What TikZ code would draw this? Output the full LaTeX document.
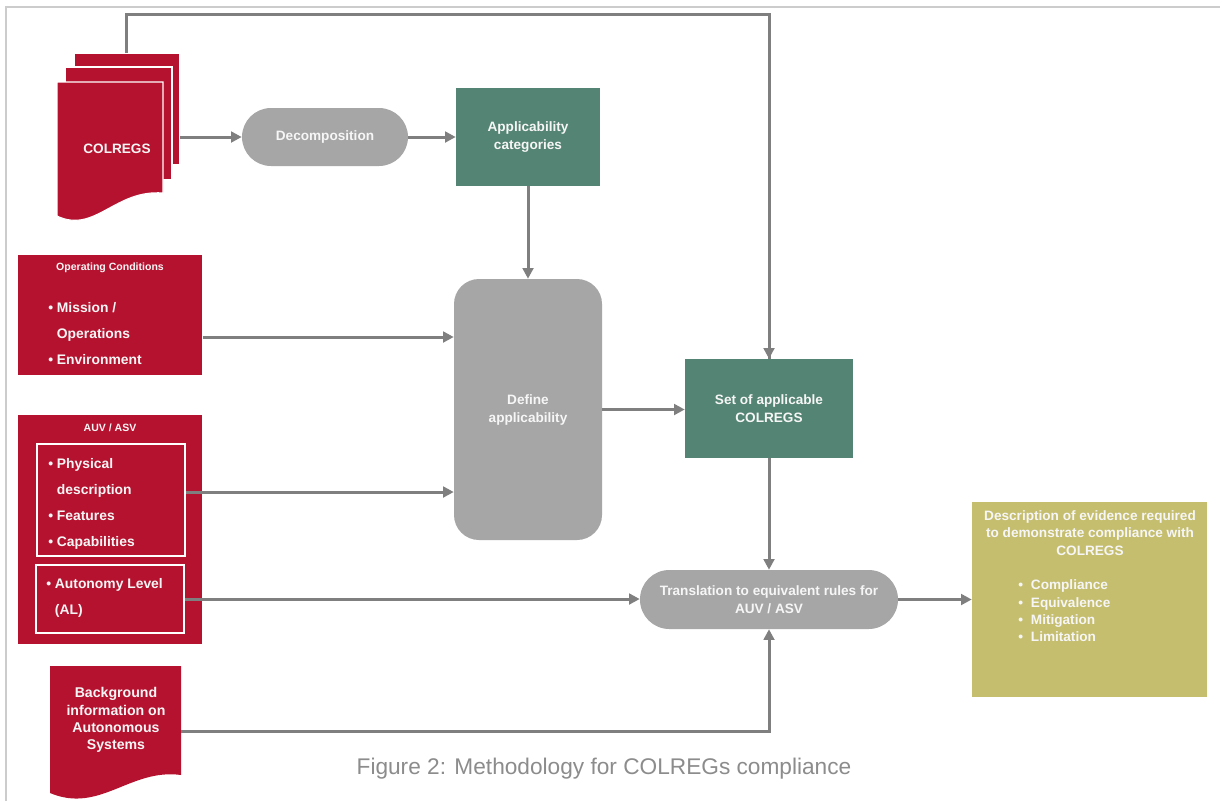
\documentclass[tikz,border=0pt]{standalone}
\usepackage{fontspec}
\setmainfont{Liberation Sans}
\usetikzlibrary{arrows.meta,calc}
\definecolor{cred}{HTML}{B5122F}
\definecolor{cgreen}{HTML}{548474}
\definecolor{cgray}{HTML}{A6A6A6}
\definecolor{carrow}{HTML}{7F7F7F}
\definecolor{colive}{HTML}{C5BE6F}
\definecolor{cframe}{HTML}{CCCCCC}
\definecolor{ctext}{HTML}{F6F6F6}
\newcommand\bul{\makebox[6.5pt][l]{\textbullet}}
\newcommand\ind{\hspace*{6.5pt}}
\begin{document}
\begin{tikzpicture}[x=0.75pt,y=-0.75pt,
  arr/.style={draw=carrow,line width=2.25pt,-{Triangle[length=8pt,width=8pt]}},
  ln/.style={draw=carrow,line width=2.25pt},
  txt/.style={text=ctext,font=\bfseries\fontsize{10.2}{13.5}\selectfont,align=center,inner sep=0pt},
  redbox/.style={fill=cred,draw=white,line width=0.8pt,inner sep=0pt},
  greenbox/.style={fill=cgreen,draw=none,inner sep=0pt},
  graybox/.style={fill=cgray,draw=none,inner sep=0pt},
  inbox/.style={draw=white,line width=1.2pt,inner sep=0pt},
  bullets/.style={text=ctext,font=\bfseries\fontsize{10.4}{19.5}\selectfont,align=left,inner sep=0pt}
]
\useasboundingbox (0,0) rectangle (1220,801);
\fill[white] (0,0) rectangle (1220,801);
% frame
\draw[cframe,line width=1.5pt] (6,801) -- (6,7) -- (1220,7);

% COLREGS stack
\draw[redbox] (74,53) rectangle (180,165);
\draw[redbox] (65,67) rectangle (172,180);
\draw[redbox] (57,82) -- (163,82) -- (163,193) .. controls (115,189) and (95,234) .. (57,216) -- cycle;
\node[txt] (colregs) at (117,149) {COLREGS};
\coordinate (colregsE) at (180,137);
\coordinate (colregsT) at (126,53);

% Decomposition
\node[graybox,rounded corners=21.75pt,minimum width=124.5pt,minimum height=43.5pt] (decomp) at (325,137) {};
\node[txt] at (decomp) {Decomposition};

% Applicability categories
\node[greenbox,minimum width=108pt,minimum height=73.5pt] (appcat) at (528,137) {};
\node[txt] at (appcat) {Applicability\\categories};

% Define applicability
\node[graybox,rounded corners=18.75pt,minimum width=111pt,minimum height=195.75pt] (define) at (528,409.5) {};
\node[txt] at (define) {Define\\applicability};

% Set of applicable COLREGS
\node[greenbox,minimum width=126pt,minimum height=74.25pt] (set) at (769,408.5) {};
\node[txt] at (set) {Set of applicable\\COLREGS};

% Translation
\node[graybox,rounded corners=22pt,minimum width=193.5pt,minimum height=44.25pt] (trans) at (769,599.5) {};
\node[txt] at (trans) {Translation to equivalent rules for\\AUV / ASV};

% Description
\node[fill=colive,draw=none,inner sep=0pt,minimum width=176.25pt,minimum height=146.25pt] (desc) at (1089.5,599.5) {};
\node[txt,font=\bfseries\fontsize{10.2}{13}\selectfont] (desctitle) at (1090,533) {Description of evidence required\\to demonstrate compliance with\\COLREGS};
\node[txt,font=\bfseries\fontsize{10.2}{13}\selectfont,align=left,anchor=west] (desclist) at (1018,611)
  {\makebox[9.5pt][l]{\textbullet}Compliance\\\makebox[9.5pt][l]{\textbullet}Equivalence\\\makebox[9.5pt][l]{\textbullet}Mitigation\\\makebox[9.5pt][l]{\textbullet}Limitation};

% Operating conditions
\node[redbox,draw=none,minimum width=138pt,minimum height=90pt] (op) at (110,315) {};
\node[txt,font=\bfseries\fontsize{7.9}{9}\selectfont] (optitle) at (110,268) {Operating Conditions};
\node[bullets,anchor=west] (oplist) at (48,334) {\bul Mission /\\\ind Operations\\\bul Environment};

% AUV / ASV
\node[redbox,draw=none,minimum width=138pt,minimum height=171.75pt] (auv) at (110,529.5) {};
\node[txt,font=\bfseries\fontsize{7.9}{9}\selectfont] (auvtitle) at (110,428) {AUV / ASV};
\node[inbox,minimum width=111pt,minimum height=84pt] (inner1) at (111,500) {};
\node[bullets,anchor=west] (list1) at (48,504) {\bul Physical\\\ind description\\\bul Features\\\bul Capabilities};
\node[inbox,minimum width=111pt,minimum height=51pt] (inner2) at (110,599) {};
\node[bullets,anchor=west] (list2) at (46,598) {\bul Autonomy Level\\\ind (AL)};

% Background document
\draw[redbox,draw=none] (50,666) -- (181,666) -- (181,775) .. controls (130,768) and (100,814) .. (50,793) -- cycle;
\node[txt,font=\bfseries\fontsize{10.6}{13}\selectfont] (bg) at (116,720) {Background\\information on\\Autonomous\\Systems};
\coordinate (bgE) at (181,731);

% caption
\node[text=carrow!90,font=\fontsize{17}{20}\selectfont,inner sep=0pt] (caption) at (604,769) {Figure 2: Methodology for COLREGs compliance};

% connectors
\draw[ln] (colregsT) -- (126,14) -| ([yshift=-0.5pt]set.north);
\draw[arr] (colregsE) -- (decomp.west);
\draw[arr] (decomp.east) -- (appcat.west);
\draw[arr] (appcat.south) -- (define.north);
\draw[arr] (op.east |- 0,337) -- (define.west |- 0,337);
\draw[arr] (inner1.east |- 0,492) -- (define.west |- 0,492);
\draw[arr] (define.east) -- (define.east -| set.west);
\draw[arr] (colregsT |- 0,14) -| (set.north);
\draw[arr] (set.south) -- (trans.north);
\draw[arr] (inner2.east) -- (inner2.east -| trans.west);
\draw[arr] (bgE) -| (trans.south);
\draw[arr] (trans.east) -- (desc.west);
\end{tikzpicture}
\end{document}
